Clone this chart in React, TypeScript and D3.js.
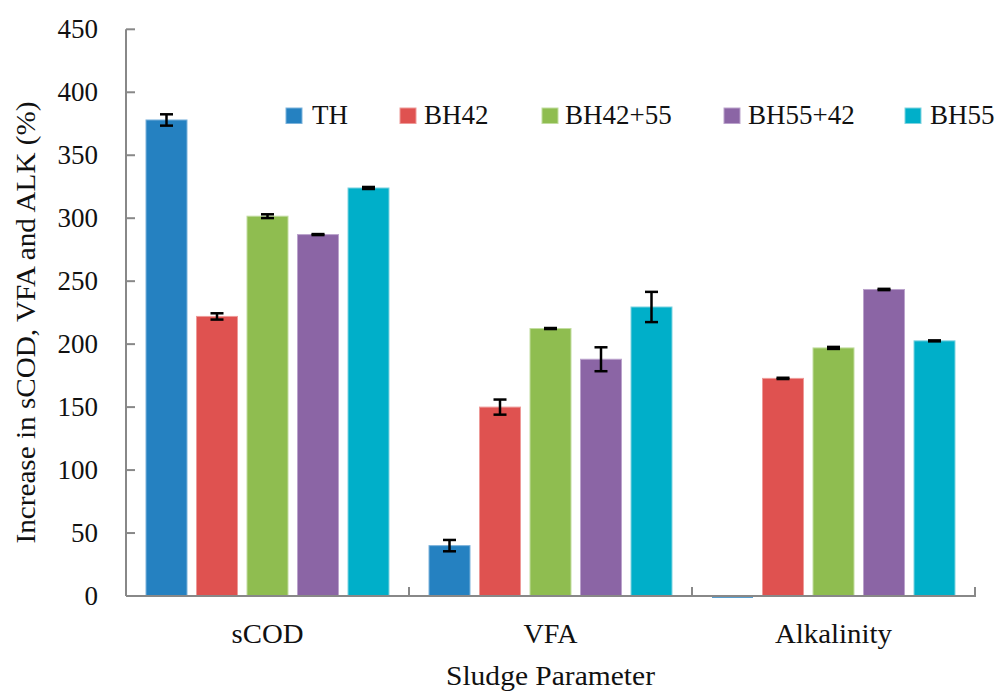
import React from "react";
import * as d3 from "d3";

const categories = ["sCOD", "VFA", "Alkalinity"];
const seriesNames = ["TH", "BH42", "BH42+55", "BH55+42", "BH55"];
const seriesColors = ["#2581C1", "#DF5250", "#8FBD50", "#8B65A5", "#00AFC9"];
const seriesStroke = ["#7DB3DB", "#EE9A98", "#C2DDA0", "#BBA3CC", "#7FD3E0"];
// values[series][category]
const TH = [378, 40, -1];
const BH42 = [222, 150, 172.8];
const BH42_55 = [301.6, 212.4, 197];
const BH55_42 = [287, 188, 243.4];
const BH55 = [324, 229.5, 202.6];
const TH_err = [4.5, 4.5, 0];
const BH42_err = [2.5, 6, 0.5];
const BH42_55_err = [1.5, 0.4, 0.8];
const BH55_42_err = [0.4, 9.5, 0.5];
const BH55_err = [0.8, 12, 0.4];
const yTicks = [0, 50, 100, 150, 200, 250, 300, 350, 400, 450];

const values = [TH, BH42, BH42_55, BH55_42, BH55];
const errors = [TH_err, BH42_err, BH42_55_err, BH55_42_err, BH55_err];

const W = 995;
const H = 691;
const left = 126;
const right = 975;
const top = 29.3;
const bottom = 596;
const FONT = "'Liberation Serif', 'Times New Roman', serif";
const AXIS = "#888888";
const FS = 27;
const legendX = [286, 400, 542, 724, 905];
const legendTextX = [312, 424, 565, 748, 930];
const catLabelWidths = [72, 54, 117];

export default function App() {
  const x0 = d3.scaleBand<string>().domain(categories).range([left, right]).paddingInner(0).paddingOuter(0);
  const x1 = d3
    .scaleBand<string>()
    .domain(seriesNames)
    .range([0, x0.bandwidth()])
    .paddingInner(0.188)
    .paddingOuter(0.396);
  const y = d3.scaleLinear().domain([0, 450]).range([bottom, top]);

  return (
    <svg
      width={W}
      height={H}
      style={{ position: "absolute", left: 0, top: 0, background: "#fff" }}
      fontFamily={FONT}
    >
      {/* bars */}
      {seriesNames.map((s, si) =>
        categories.map((c, ci) => {
          const v = values[si][ci];
          const bx = (x0(c) as number) + (x1(s) as number);
          const bw = x1.bandwidth();
          const y0 = y(0);
          const yv = y(v);
          const ry = Math.min(y0, yv);
          const rh = Math.abs(y0 - yv);
          return (
            <rect
              key={s + c}
              x={bx}
              y={v < 0 ? y0 + 0.5 : ry}
              width={bw}
              height={rh}
              fill={seriesColors[si]}
              stroke={v < 0 ? "none" : seriesStroke[si]}
              strokeWidth={1}
            />
          );
        })
      )}
      {/* error bars */}
      {seriesNames.map((s, si) =>
        categories.map((c, ci) => {
          const v = values[si][ci];
          const e = errors[si][ci];
          if (e <= 0) return null;
          const cx = (x0(c) as number) + (x1(s) as number) + x1.bandwidth() / 2;
          const y1 = y(v + e);
          const y2 = y(v - e);
          const cap = 6.5;
          return (
            <g key={"e" + s + c} stroke="#000" strokeWidth={2.5}>
              <line x1={cx} x2={cx} y1={y1} y2={y2} />
              <line x1={cx - cap} x2={cx + cap} y1={y1} y2={y1} />
              <line x1={cx - cap} x2={cx + cap} y1={y2} y2={y2} />
            </g>
          );
        })
      )}
      {/* y axis */}
      <line x1={left} x2={left} y1={top} y2={bottom} stroke={AXIS} strokeWidth={2} />
      {yTicks.map((t) => (
        <g key={"yt" + t}>
          <line x1={left} x2={left + 9} y1={y(t)} y2={y(t)} stroke={AXIS} strokeWidth={2} />
          <text x={98} y={y(t)} dy="0.33em" textAnchor="end" fontSize={FS} fill="#111">
            {t}
          </text>
        </g>
      ))}
      {/* x axis */}
      <line x1={left} x2={right + 1} y1={bottom} y2={bottom} stroke={AXIS} strokeWidth={2} />
      {categories.map((c) => (
        <line
          key={"xt" + c}
          x1={(x0(c) as number) + x0.bandwidth()}
          x2={(x0(c) as number) + x0.bandwidth()}
          y1={bottom}
          y2={bottom - 9}
          stroke={AXIS}
          strokeWidth={2}
        />
      ))}
      {categories.map((c, ci) => (
        <text
          key={"xl" + c}
          x={(x0(c) as number) + x0.bandwidth() / 2}
          y={643}
          textAnchor="middle"
          fontSize={FS}
          fill="#111"
          textLength={catLabelWidths[ci]}
          lengthAdjust="spacingAndGlyphs"
        >
          {c}
        </text>
      ))}
      {/* axis titles */}
      <text
        x={550.5}
        y={685}
        textAnchor="middle"
        fontSize={FS}
        fill="#111"
        textLength={209}
        lengthAdjust="spacingAndGlyphs"
      >
        Sludge Parameter
      </text>
      <text
        transform={`translate(35, 322.5) rotate(-90)`}
        textAnchor="middle"
        fontSize={FS}
        fill="#111"
        textLength={442}
        lengthAdjust="spacingAndGlyphs"
      >
        Increase in sCOD, VFA and ALK (%)
      </text>
      {/* legend */}
      {seriesNames.map((s, si) => (
        <g key={"lg" + s}>
          <rect x={legendX[si]} y={108} width={16} height={15.5} fill={seriesColors[si]} stroke={seriesStroke[si]} strokeWidth={1} />
          <text x={legendTextX[si]} y={124} fontSize={FS} fill="#111">
            {s}
          </text>
        </g>
      ))}
    </svg>
  );
}
